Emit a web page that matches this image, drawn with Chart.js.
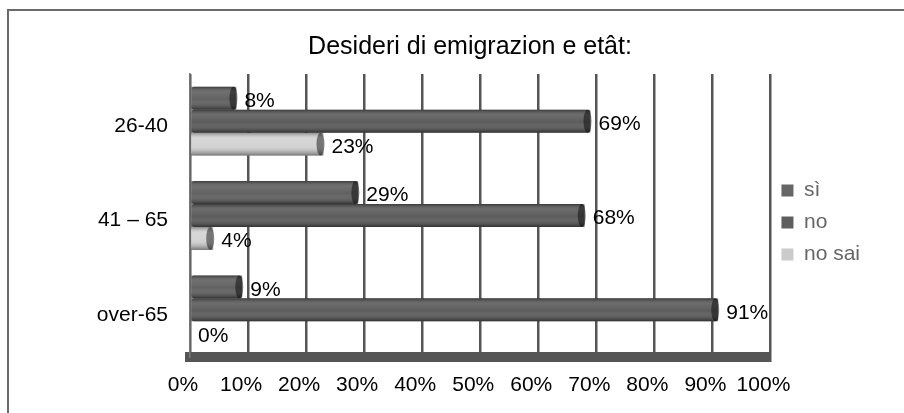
<!DOCTYPE html>
<html>
<head>
<meta charset="utf-8">
<script src="https://cdn.jsdelivr.net/npm/chart.js@4"></script>
<style>
  body { margin: 0; background: #fff; }
  #frame { position: absolute; left: 7px; top: 9px; width: 920px; height: 420px;
           border-top: 2px solid #6a6a6a; border-left: 2px solid #6a6a6a; }
  #wrap { position: absolute; left: 0; top: 0; width: 904px; height: 413px; }
</style>
</head>
<body>
<div id="frame"></div>
<div id="wrap"><canvas id="chart" width="904" height="413"></canvas></div>
<script>
// data
const groups = ["26-40", "41 – 65", "over-65"];
const seriesNames = ["sì", "no", "no sai"];
const siValues = [8, 29, 9];
const noValues = [69, 68, 91];
const noSaiValues = [23, 4, 0];
const barColors = ["#5c5c5c", "#575757", "#d2d2d2"];
const xTicks = [0, 10, 20, 30, 40, 50, 60, 70, 80, 90, 100];

const FONT = "'Liberation Sans', Arial, sans-serif";

// cylinder shading + end caps on top of the flat bars
const cylinderPlugin = {
    id: "cylinder",
    afterDatasetsDraw(chart) {
        const ctx = chart.ctx;
        chart.data.datasets.forEach((ds, i) => {
            chart.getDatasetMeta(i).data.forEach((bar) => {
                const { x, y, base, height } = bar.getProps(["x", "y", "base", "height"], true);
                if (x - base < 1) return;
                const top = y - height / 2;
                ctx.save();
                const g = ctx.createLinearGradient(0, top, 0, top + height);
                g.addColorStop(0, "rgba(0,0,0,0.35)");
                g.addColorStop(0.25, "rgba(255,255,255,0.12)");
                g.addColorStop(0.55, "rgba(255,255,255,0.03)");
                g.addColorStop(1, "rgba(0,0,0,0.45)");
                ctx.fillStyle = g;
                ctx.fillRect(base, top, x - base, height);
                // end cap
                ctx.beginPath();
                ctx.ellipse(x - 3, y, 4, height / 2, 0, 0, Math.PI * 2);
                ctx.fillStyle = "rgba(0,0,0,0.45)";
                ctx.fill();
                ctx.restore();
            });
        });
    }
};

// value labels after each bar
const valueLabels = {
    id: "valueLabels",
    afterDatasetsDraw(chart) {
        const ctx = chart.ctx;
        ctx.save();
        ctx.font = "21px " + FONT;
        ctx.fillStyle = "#000";
        ctx.textBaseline = "middle";
        ctx.textAlign = "left";
        chart.data.datasets.forEach((ds, i) => {
            chart.getDatasetMeta(i).data.forEach((bar, j) => {
                ctx.fillText(ds.data[j] + "%", bar.x + 8, bar.y + 3);
            });
        });
        ctx.restore();
    }
};

new Chart(document.getElementById("chart"), {
    type: "bar",
    data: {
        labels: groups,
        datasets: [
            { label: seriesNames[0], data: siValues, backgroundColor: barColors[0] },
            { label: seriesNames[1], data: noValues, backgroundColor: barColors[1] },
            { label: seriesNames[2], data: noSaiValues, backgroundColor: barColors[2] }
        ]
    },
    options: {
        indexAxis: "y",
        responsive: false,
        animation: false,
        categoryPercentage: 0.73,
        barPercentage: 1,
        layout: { padding: { left: 70, right: 34, top: 0, bottom: 0 } },
        datasets: { bar: { borderRadius: 3, borderSkipped: false } },
        plugins: {
            title: {
                display: true,
                text: "Desideri di emigrazion e etât:",
                color: "#000",
                font: { family: FONT, size: 25, weight: "normal" },
                padding: { top: 32, bottom: 12 }
            },
            legend: {
                position: "right",
                title: { display: true, text: "", padding: 10, font: { size: 10 } },
                labels: {
                    color: "#000",
                    font: { family: FONT, size: 21 },
                    boxWidth: 12,
                    boxHeight: 12,
                    padding: 11,
                    generateLabels: () => seriesNames.map((n, i) => ({
                        text: n,
                        fillStyle: ["#666666", "#5e5e5e", "#cbcbcb"][i],
                        strokeStyle: "transparent",
                        lineWidth: 0,
                        datasetIndex: i
                    }))
                }
            },
            tooltip: { enabled: false }
        },
        scales: {
            x: {
                min: 0,
                max: 100,
                afterBuildTicks: (s) => { s.ticks = xTicks.map((v) => ({ value: v })); },
                afterFit: (s) => { s.height = 56; },
                grid: { color: "#555", lineWidth: 2.5, drawTicks: false },
                border: { display: true, color: "#555", width: 10 },
                ticks: {
                    color: "#000",
                    font: { family: FONT, size: 21 },
                    padding: 16,
                    labelOffset: -7,
                    maxRotation: 0,
                    minRotation: 0,
                    autoSkip: false,
                    callback: (v) => v + "%"
                }
            },
            y: {
                afterFit: (s) => { s.width = 120; },
                grid: { display: false },
                border: { display: true, color: "#777", width: 1.5 },
                ticks: {
                    color: "#000",
                    font: { family: FONT, size: 21 },
                    padding: 14,
                    labelOffset: 5
                }
            }
        }
    },
    plugins: [cylinderPlugin, valueLabels]
});
</script>
</body>
</html>
